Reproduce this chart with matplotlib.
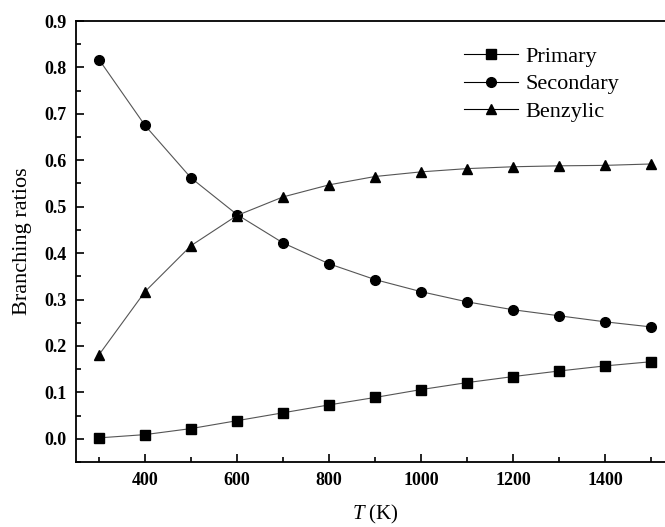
import matplotlib
matplotlib.use("Agg")
import matplotlib.pyplot as plt
from matplotlib.ticker import MultipleLocator

T = [300, 400, 500, 600, 700, 800, 900, 1000, 1100, 1200, 1300, 1400, 1500]
primary = [0.002, 0.009, 0.022, 0.039, 0.056, 0.073, 0.089, 0.106, 0.121, 0.134, 0.146, 0.157, 0.166]
secondary = [0.817, 0.675, 0.562, 0.483, 0.422, 0.377, 0.343, 0.317, 0.295, 0.278, 0.265, 0.252, 0.241]
benzylic = [0.181, 0.317, 0.416, 0.481, 0.521, 0.547, 0.565, 0.575, 0.582, 0.586, 0.588, 0.589, 0.592]

plt.rcParams['font.family'] = ['Liberation Serif', 'DejaVu Serif']
plt.rcParams['mathtext.fontset'] = 'custom'
plt.rcParams['mathtext.it'] = 'Liberation Serif:italic'

fig = plt.figure(figsize=(6.65, 5.27), dpi=100)
W, H = 665, 527
x0, x1, y0, y1 = 76, 674, 21, 462
ax = fig.add_axes([x0 / W, 1 - y1 / H, (x1 - x0) / W, (y1 - y0) / H])

lc = '#555555'
ax.plot(T, primary, '-', color=lc, lw=0.8, marker='s', ms=6.5, mfc='black', mec='black', label='Primary')
ax.plot(T, secondary, '-', color=lc, lw=0.8, marker='o', ms=7, mfc='black', mec='black', label='Secondary')
ax.plot(T, benzylic, '-', color=lc, lw=0.8, marker='^', ms=7.5, mfc='black', mec='black', label='Benzylic')

ax.set_xlim(250, 1550)
ax.set_ylim(-0.05, 0.9)
ax.xaxis.set_major_locator(MultipleLocator(200))
ax.xaxis.set_minor_locator(MultipleLocator(100))
ax.yaxis.set_major_locator(MultipleLocator(0.1))
ax.yaxis.set_minor_locator(MultipleLocator(0.05))
ax.set_xticks([400, 600, 800, 1000, 1200, 1400])
ax.set_yticks([0.0, 0.1, 0.2, 0.3, 0.4, 0.5, 0.6, 0.7, 0.8, 0.9])
ax.set_yticklabels(['%.1f' % v for v in ax.get_yticks()])
ax.tick_params(axis='both', which='major', direction='in', length=6, width=1.2, labelsize=13, pad=7)
ax.tick_params(axis='both', which='minor', direction='in', length=3.5, width=1.2)
for lab in ax.get_xticklabels() + ax.get_yticklabels():
    lab.set_fontweight('bold')
for s in ax.spines.values():
    s.set_linewidth(1.3)

ax.set_xlabel(r'$T$ (K)', fontsize=15, labelpad=10)
ax.set_ylabel('Branching ratios', fontsize=16, labelpad=9)

leg = ax.legend(loc='upper left', bbox_to_anchor=(0.634, 0.962), frameon=False, fontsize=16,
                handlelength=2.45, handletextpad=0.3, labelspacing=0.3, borderaxespad=0)
for h in leg.legend_handles:
    h.set_color('black')
    h.set_markerfacecolor('black')

fig.savefig('out.png', dpi=100)
